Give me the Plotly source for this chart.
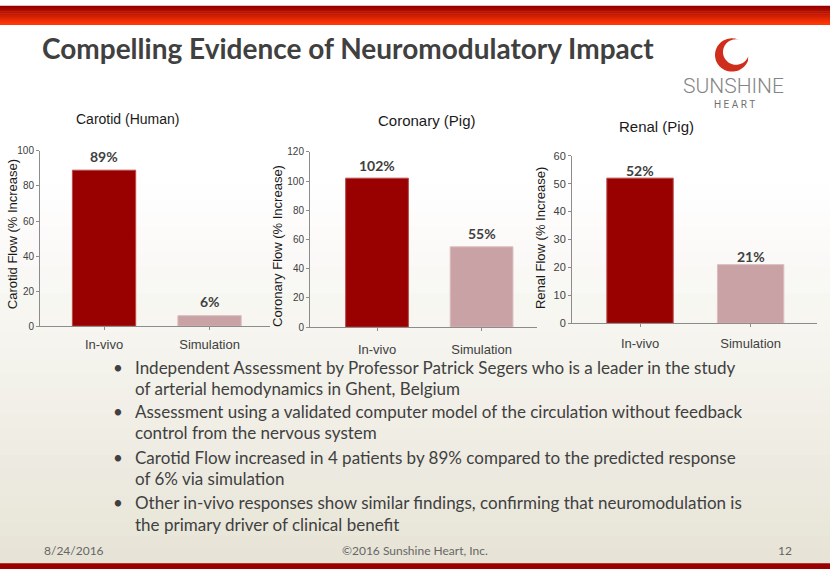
import numpy as np
import plotly.graph_objects as go

W, H = 830, 575

# ---------------- data ----------------
categories = ["In-vivo", "Simulation"]
carotid_values = [89, 6]
coronary_values = [102, 55]
renal_values = [52, 21]
value_labels_carotid = ["89%", "6%"]
value_labels_coronary = ["102%", "55%"]
value_labels_renal = ["52%", "21%"]
chart_titles = ["Carotid (Human)", "Coronary (Pig)", "Renal (Pig)"]
y_titles = ["Carotid Flow (% Increase)", "Coronary Flow (% Increase)", "Renal Flow (% Increase)"]
bar_colors = ["#990000", "#c9a2a5"]
bar_edges = ["#b84a4a", "#dcbcbe"]

slide_title = "Compelling Evidence of Neuromodulatory Impact"
bullet_lines = [
    ["Independent Assessment by Professor Patrick Segers who is a leader in the study",
     "of arterial hemodynamics in Ghent, Belgium"],
    ["Assessment using a validated computer model of the circulation without feedback",
     "control from the nervous system"],
    ["Carotid Flow increased in 4 patients by 89% compared to the predicted response",
     "of 6% via simulation"],
    ["Other in-vivo responses show similar findings, confirming that neuromodulation is",
     "the primary driver of clinical benefit"],
]
footer_date = "8/24/2016"
footer_copy = "©2016 Sunshine Heart, Inc."
footer_page = "12"


def X(px):
    return px / W


def Y(py):
    return 1 - py / H


SLIDE_FONT = "Lato, Open Sans, sans-serif"
ARIAL = "Liberation Sans, Arial, sans-serif"

fig = go.Figure()

panels = [
    dict(xl=40, xr=270, y0=327, y1=148, xr_rng=[-0.607, 1.573], yr=[0, 100], dt=20,
         vals=carotid_values, labs=value_labels_carotid, shift=14, title_xy=(127, 115),
         ytitle_xy=(12, 233), tick_font=10, stand=3),
    dict(xl=310, xr=537, y0=328, y1=149, xr_rng=[-0.641, 1.53], yr=[0, 120], dt=20,
         vals=coronary_values, labs=value_labels_coronary, shift=13, title_xy=(427, 117),
         ytitle_xy=(278, 245), tick_font=10, stand=7),
    dict(xl=572, xr=817, y0=324, y1=153, xr_rng=[-0.615, 1.60], yr=[0, 60], dt=10,
         vals=renal_values, labs=value_labels_renal, shift=8, title_xy=(656, 123),
         ytitle_xy=(540, 237), tick_font=11, stand=5),
]

shapes = []
n_bg = 40
for i in range(n_bg):
    ya = 19 + (569 - 19) * i / n_bg
    yb = 19 + (569 - 19) * (i + 1) / n_bg
    t = max(0.0, (ya - 180) / (569 - 180))
    r = int(255 + (231 - 255) * t)
    g = int(255 + (228 - 255) * t)
    b = int(255 + (214 - 255) * t)
    shapes.append(dict(type="rect", xref="paper", yref="paper", x0=0, x1=1,
                       y0=Y(yb) - 0.001, y1=Y(ya) + 0.001, line_width=0,
                       fillcolor=f"rgb({r},{g},{b})", layer="below"))
n_top = 10
for i in range(n_top):
    ya = 19 * i / n_top
    yb = 19 * (i + 1) / n_top
    t = i / (n_top - 1)
    r = int(150 + (255 - 150) * t)
    g = int(0 + (55 - 0) * t)
    b = int(0 + (5 - 0) * t)
    shapes.append(dict(type="rect", xref="paper", yref="paper", x0=0, x1=1,
                       y0=Y(yb) - 0.0005, y1=Y(ya) + 0.0005, line_width=0,
                       fillcolor=f"rgb({r},{g},{b})", layer="below"))
shapes.append(dict(type="rect", xref="paper", yref="paper", x0=0, x1=1,
                   y0=0, y1=Y(569), line_width=0, fillcolor="#9a0000", layer="above"))

# logo swoosh "C"
cx, cy, R = 732, 50, 17
icx, icy, r_in = 736, 47, 13
th_out = np.radians(np.linspace(70, 340, 60))
th_in = np.radians(np.linspace(340, 70, 60))
pts = [(cx + R * np.cos(t), cy - R * np.sin(t)) for t in th_out]
pts += [(icx + r_in * np.cos(t), icy - r_in * np.sin(t)) for t in th_in]
path = "M " + " L ".join(f"{X(px):.5f},{Y(py):.5f}" for px, py in pts) + " Z"
shapes.append(dict(type="path", xref="paper", yref="paper", path=path,
                   fillcolor="#cf2e1c", line_width=0))

annotations = []

for k, p in enumerate(panels):
    sfx = "" if k == 0 else str(k + 1)
    xa = "x" + sfx
    ya = "y" + sfx
    fig.add_trace(go.Bar(
        x=categories, y=p["vals"], xaxis=xa, yaxis=ya,
        marker=dict(color=bar_colors, line=dict(color=bar_edges, width=1)),
        width=0.6, showlegend=False, hoverinfo="x+y",
    ))
    for c, v, lab in zip(categories, p["vals"], p["labs"]):
        annotations.append(dict(x=c, y=v, xref=xa, yref=ya, text=f"<b>{lab}</b>",
                                showarrow=False, yanchor="middle", yshift=p["shift"],
                                font=dict(family=SLIDE_FONT, size=14, color="#404040")))
    xd = [X(p["xl"]), X(p["xr"])]
    yd = [Y(p["y0"]), Y(p["y1"])]
    axis_common = dict(showgrid=False, zeroline=False, showline=True,
                       linecolor="#8c8c8c", linewidth=1, ticks="outside",
                       tickcolor="#8c8c8c", ticklen=3)
    fig.update_layout(**{
        ("xaxis" + sfx): dict(domain=xd, anchor=ya, range=p["xr_rng"], type="category",
                              tickfont=dict(family=ARIAL, size=13, color="#404040"),
                              ticklabelstandoff=p["stand"], fixedrange=True, **axis_common),
        ("yaxis" + sfx): dict(domain=yd, anchor=xa, range=p["yr"], dtick=p["dt"],
                              tickfont=dict(family=ARIAL, size=p["tick_font"], color="#404040"),
                              ticklabelstandoff=0, fixedrange=True, **axis_common),
    })
    tx, ty = p["title_xy"]
    annotations.append(dict(x=X(tx), y=Y(ty), xref="paper", yref="paper",
                            text=chart_titles[k], showarrow=False,
                            xanchor="center", yanchor="middle",
                            font=dict(family=ARIAL, size=15 if k else 14, color="#1a1a1a")))
    yx, yy = p["ytitle_xy"]
    annotations.append(dict(x=X(yx), y=Y(yy), xref="paper", yref="paper",
                            text=y_titles[k], showarrow=False, textangle=-90,
                            xanchor="center", yanchor="middle",
                            font=dict(family=ARIAL, size=13, color="#1a1a1a")))

annotations.append(dict(x=X(40), y=Y(43), xref="paper", yref="paper", text=f"<b>{slide_title}</b>",
                        showarrow=False, xanchor="left", yanchor="middle",
                        font=dict(family=SLIDE_FONT, size=28, color="#404040")))
annotations.append(dict(x=X(733), y=Y(82), xref="paper", yref="paper", text="SUNSHINE",
                        showarrow=False, xanchor="center", yanchor="middle",
                        font=dict(family="Roboto, sans-serif", size=21, color="#858585", weight=300)))
annotations.append(dict(x=X(734), y=Y(101), xref="paper", yref="paper", text="H E A R T",
                        showarrow=False, xanchor="center", yanchor="middle",
                        font=dict(family="Roboto, sans-serif", size=10, color="#707070")))

line_y = [[369, 391], [414, 436], [461, 483], [507, 530]]
for lines, ys in zip(bullet_lines, line_y):
    annotations.append(dict(x=X(118), y=Y(ys[0]), xref="paper", yref="paper", text="•",
                            showarrow=False, xanchor="center", yanchor="middle",
                            font=dict(family=SLIDE_FONT, size=17, color="#404040")))
    for txt, yy in zip(lines, ys):
        annotations.append(dict(x=X(133), y=Y(yy), xref="paper", yref="paper", text=txt,
                                showarrow=False, xanchor="left", yanchor="middle",
                                font=dict(family=SLIDE_FONT, size=17, color="#404040")))

for txt, xx, anc in [(footer_date, 42, "left"), (footer_copy, 415, "center"), (footer_page, 794, "right")]:
    annotations.append(dict(x=X(xx), y=Y(556), xref="paper", yref="paper", text=txt,
                            showarrow=False, xanchor=anc, yanchor="middle",
                            font=dict(family=SLIDE_FONT, size=12, color="#666666")))

fig.update_layout(
    width=W, height=H, margin=dict(l=0, r=0, t=0, b=0),
    paper_bgcolor="#ffffff", plot_bgcolor="rgba(0,0,0,0)",
    shapes=shapes, annotations=annotations, bargap=0.4,
)

fig.write_html("out.html", config={"displayModeBar": False},
               post_script="document.body.style.margin='0';document.body.style.overflow='hidden';")
